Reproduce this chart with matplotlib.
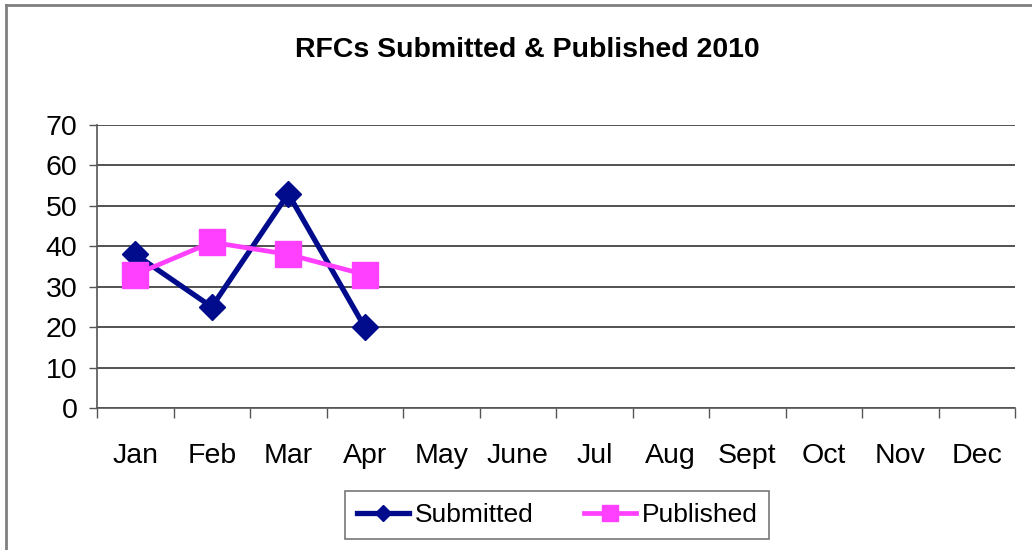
import matplotlib
matplotlib.use("Agg")
import matplotlib.pyplot as plt
from matplotlib.lines import Line2D

"""Input data"""

months = ["Jan", "Feb", "Mar", "Apr", "May", "June", "Jul", "Aug", "Sept", "Oct", "Nov", "Dec"]
submitted = [38, 25, 53, 20]
published = [33, 41, 38, 33]
y_ticks = [0, 10, 20, 30, 40, 50, 60, 70]

plt.rcParams['font.family'] = ['Liberation Sans', 'DejaVu Sans']

fig = plt.figure(figsize=(10.32, 5.5), dpi=100)
ax = fig.add_axes([97 / 1032, 1 - 408 / 550, (1015 - 97) / 1032, (408 - 125) / 550])

x_sub = list(range(len(submitted)))
x_pub = list(range(len(published)))

ax.plot(x_sub, submitted, color="#000C8C", lw=3.8, marker="D", ms=13.5,
        mec="#000C8C", mew=1, zorder=3, label="Submitted")
ax.plot(x_pub, published, color="#FF40FF", lw=3.4, marker="s", ms=18.5,
        mec="#FF40FF", mew=1, zorder=4, label="Published")

ax.set_xlim(-0.5, len(months) - 0.5)
ax.set_ylim(0, 70)
ax.set_yticks(y_ticks)
ax.set_yticklabels([str(v) for v in y_ticks], fontsize=20.5)
ax.yaxis.grid(True, color="#333333", lw=1.2)
ax.set_axisbelow(True)

# category labels centred, tick marks on the boundaries
ax.set_xticks(range(len(months)))
ax.set_xticklabels(months, fontsize=20.5)
ax.tick_params(axis="x", length=0, pad=25)
ax.set_xticks([i - 0.5 for i in range(len(months) + 1)], minor=True)
ax.tick_params(axis="x", which="minor", length=7, width=1, color="#555555", direction="out")
ax.tick_params(axis="y", length=6, width=1, color="#555555", pad=8)

for side in ["top", "right"]:
    ax.spines[side].set_visible(False)
ax.spines["left"].set_color("#555555")
ax.spines["bottom"].set_color("#555555")
ax.spines["left"].set_linewidth(1.2)
ax.spines["bottom"].set_linewidth(1.2)

fig.text(527 / 1032, 1 - 50 / 550, "RFCs Submitted & Published 2010", fontsize=20.5,
         fontweight="bold", ha="center", va="center")

leg = fig.legend(loc="center", bbox_to_anchor=(557 / 1032, 1 - 515 / 550), ncol=2,
                 fontsize=19, frameon=True, fancybox=False, handlelength=2.0,
                 handletextpad=0.2, columnspacing=1.9, borderpad=0.45,
                 borderaxespad=0, markerscale=0.6)
leg.get_frame().set_edgecolor("#555555")
leg.get_frame().set_linewidth(1.2)

# outer chart border (only left and top are inside the picture)
fig.add_artist(Line2D([6 / 1032, 6 / 1032], [0, 1 - 5 / 550], color="#808080", lw=2))
fig.add_artist(Line2D([6 / 1032, 1], [1 - 5 / 550, 1 - 5 / 550], color="#808080", lw=2))

fig.savefig("out.png", dpi=100)
